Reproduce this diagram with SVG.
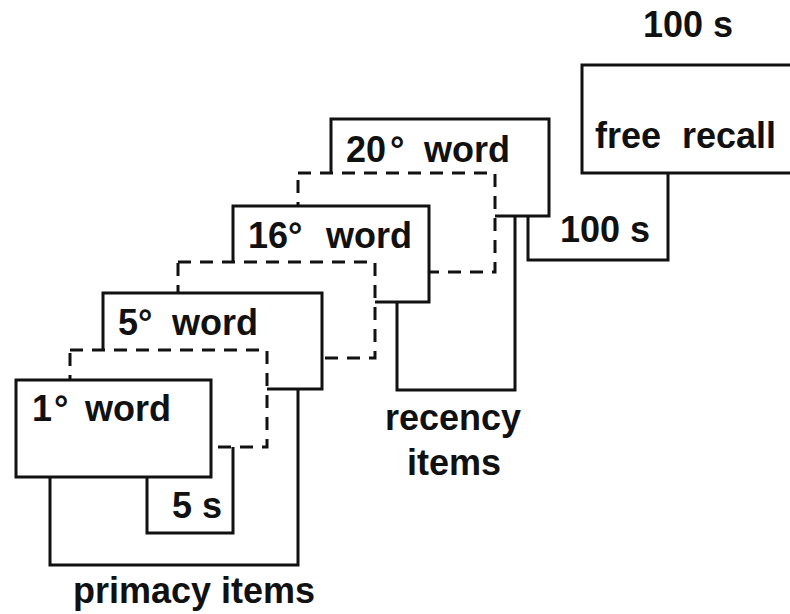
<svg xmlns="http://www.w3.org/2000/svg" width="790" height="614" viewBox="0 0 790 614">
  <style>
    .box { fill: #fff; stroke: #111; stroke-width: 3; }
    .gap { fill: #fff; stroke: #111; stroke-width: 3; stroke-dasharray: 13 9; }
    .link { fill: none; stroke: #111; stroke-width: 3; }
    text { font-family: "Liberation Sans", Arial, sans-serif; font-weight: bold; font-size: 36px; fill: #111; }
  </style>
  <rect width="790" height="614" fill="#fff"/>

  <!-- recall period -->
  <g id="recall">
    <rect class="box" x="582" y="65" width="230" height="108"/>
    <text x="595" y="148">free<tspan x="682">recall</tspan></text>
  </g>
  <text x="643" y="37">100 s</text>

  <!-- timing / grouping brackets -->
  <g id="connectors">
    <path class="link" d="M528,216 V260 H668 V173"/>
    <path class="link" d="M397,302 V390 H515 V216"/>
    <path class="link" d="M50,477 V565 H298 V389"/>
    <path class="link" d="M147,477 V533 H233 V447"/>
  </g>

  <!-- word presentations, back to front -->
  <g id="word20">
    <rect class="box" x="331" y="119" width="218" height="97"/>
    <text x="346" y="162">20<tspan x="390">°</tspan><tspan x="424">word</tspan></text>
  </g>
  <g id="gap20">
    <rect class="gap" x="298" y="173" width="197" height="99"/>
  </g>
  <g id="word16">
    <rect class="box" x="233" y="206" width="196" height="96"/>
    <text x="248" y="248">16°<tspan x="326">word</tspan></text>
  </g>
  <g id="gap16">
    <rect class="gap" x="178" y="262" width="197" height="96"/>
  </g>
  <g id="word5">
    <rect class="box" x="103" y="293" width="219" height="96"/>
    <text x="118" y="335">5°<tspan x="172">word</tspan></text>
  </g>
  <g id="gap5">
    <rect class="gap" x="70" y="350" width="197" height="97"/>
  </g>
  <g id="word1">
    <rect class="box" x="16" y="380" width="195" height="97"/>
    <text x="32" y="421">1<tspan x="54">°</tspan><tspan x="85">word</tspan></text>
  </g>

  <!-- bracket labels -->
  <text x="172" y="518">5 s</text>
  <text x="560" y="242">100 s</text>
  <text x="385" y="430">recency</text>
  <text x="407" y="475">items</text>
  <text x="73" y="603">primacy items</text>
</svg>
